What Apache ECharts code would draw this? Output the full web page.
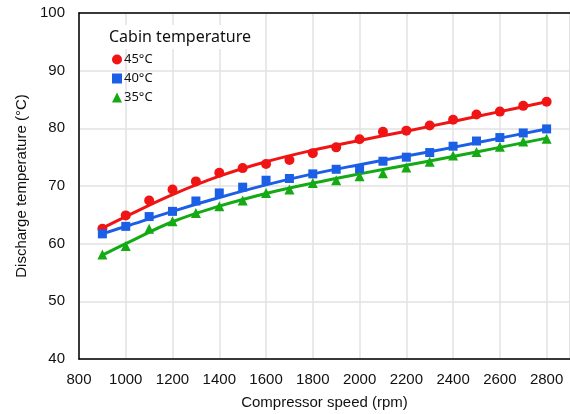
<!DOCTYPE html>
<html>
<head>
<meta charset="utf-8">
<script src="https://cdn.jsdelivr.net/npm/echarts@6/dist/echarts.min.js"></script>
<style>html,body{margin:0;padding:0;background:#fff}#c{width:570px;height:414px}</style>
</head>
<body>
<div id="c"></div>
<script>
// Measured points (compressor speed in rpm)
const speeds = [900,1000,1100,1200,1300,1400,1500,1600,1700,1800,1900,2000,2100,2200,2300,2400,2500,2600,2700,2800];
const temp45 = [62.6,64.9,67.5,69.4,70.8,72.3,73.1,73.8,74.5,75.7,76.7,78.1,79.4,79.6,80.5,81.5,82.4,82.9,83.9,84.6];
const temp40 = [61.7,63.0,64.7,65.6,67.4,68.8,69.8,71.0,71.3,72.1,72.9,73.0,74.3,75.0,75.8,76.9,77.8,78.4,79.2,79.9];
const temp35 = [58.1,59.6,62.6,63.9,65.3,66.5,67.5,68.8,69.4,70.5,71.0,71.7,72.2,73.2,74.2,75.3,75.9,76.8,77.7,78.2];
// Fitted curves
const fitSpeeds = [900,1000,1200,1400,1600,1800,2000,2200,2400,2600,2800];
const fit45 = [62.7,64.7,68.5,71.7,74.2,76.2,77.9,79.5,81.2,82.9,84.6];
const fit40 = [61.7,63.0,65.6,68.0,70.2,72.1,73.7,75.2,76.7,78.3,79.9];
const fit35 = [58.0,60.0,63.8,66.5,68.7,70.5,72.1,73.6,75.1,76.7,78.3];
const seriesNames = ['45°C','40°C','35°C'];
const xTicks = {min:800, max:2900, step:200};
const yTicks = {min:40, max:100, step:10};

const colors = ['#f01414','#1a5fe6','#14aa14'];
const symbols = ['circle','rect','triangle'];
const sizes = [10,9,10];
const pts = [temp45,temp40,temp35];
const fits = [fit45,fit40,fit35];

const series = [];
fits.forEach((f,i)=>{
  series.push({type:'line', name:'fit'+i, data:fitSpeeds.map((s,k)=>[s,f[k]]), smooth:0.4,
    showSymbol:false, lineStyle:{color:colors[i], width:3}, z:2, silent:true});
});
pts.forEach((p,i)=>{
  series.push({type:'scatter', name:seriesNames[i], data:speeds.map((s,k)=>[s,p[k]]),
    symbol:symbols[i], symbolSize:sizes[i], itemStyle:{color:colors[i], opacity:1}, z:3});
});

const chart = echarts.init(document.getElementById('c'), null, {renderer:'canvas'});
chart.setOption({
  animation:false,
  backgroundColor:'#fff',
  grid:{left:79, right:0, top:13, bottom:55, outerBoundsMode:'none', containLabel:false,
    show:true, borderColor:'#bbb', borderWidth:1, backgroundColor:'transparent'},
  title:{text:'Cabin temperature', left:103, top:25, padding:[4,8,4,6], backgroundColor:'#fff',
    textStyle:{fontFamily:'Noto Sans', fontSize:16, fontWeight:'normal', color:'#111'}},
  legend:{data:seriesNames, orient:'vertical', left:107, top:48, itemGap:6, itemWidth:10, itemHeight:10,
    textStyle:{fontFamily:'Noto Sans', fontSize:13, color:'#111', padding:[0,0,0,-3]}},
  xAxis:[{type:'value', min:xTicks.min, max:xTicks.max, interval:xTicks.step,
    name:'Compressor speed (rpm)', nameLocation:'middle', nameGap:36,
    nameTextStyle:{fontFamily:'Liberation Sans', fontSize:15, color:'#111'},
    axisLine:{show:true, lineStyle:{color:'#000', width:1.5}},
    axisTick:{show:false},
    axisLabel:{fontFamily:'Liberation Sans', fontSize:15, color:'#111', margin:13,
      formatter:v=> v>2800 ? '' : String(v)},
    splitLine:{show:true, lineStyle:{color:'#e2e2e2', width:1.5}}},
   {type:'value', position:'top', min:xTicks.min, max:xTicks.max, interval:xTicks.step,
    axisLine:{show:true, lineStyle:{color:'#000', width:1.5}},
    axisTick:{show:false}, axisLabel:{show:false}, splitLine:{show:false}}],
  yAxis:{type:'value', min:yTicks.min, max:yTicks.max, interval:yTicks.step,
    name:'Discharge temperature (°C)', nameLocation:'middle', nameGap:50,
    nameTextStyle:{fontFamily:'Liberation Sans', fontSize:15, color:'#111'},
    axisLine:{show:true, lineStyle:{color:'#000', width:1.5}},
    axisTick:{show:false},
    axisLabel:{fontFamily:'Liberation Sans', fontSize:15, color:'#111', margin:14},
    splitLine:{show:true, lineStyle:{color:'#e2e2e2', width:1.5}}},
  series:series
});
</script>
</body>
</html>
